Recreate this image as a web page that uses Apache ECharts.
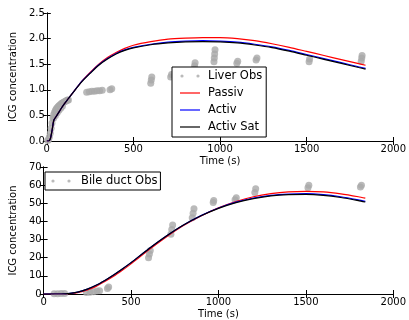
<!DOCTYPE html>
<html>
<head>
<meta charset="utf-8">
<script src="https://cdn.jsdelivr.net/npm/echarts@6/dist/echarts.min.js"></script>
<style>
html,body{margin:0;padding:0;background:#fff;}
#c{width:409px;height:320px;}
</style>
</head>
<body>
<div id="c"></div>
<script>
// ---- data ----
var xTicks = [0, 500, 1000, 1500, 2000];
var liverTicks = [0.0, 0.5, 1.0, 1.5, 2.0, 2.5];
var bileTicks = [0, 10, 20, 30, 40, 50, 60, 70];

var liverObsT = [5,10,15,20,25,30,35,40,45,50,55,60,65,70,75,80,85,90,95,100,105,110,115,120,125,
  40,50,60,70,80,90,
  230,245,260,275,290,305,320,365,375,
  600,603,606,715,720,850,853,856,965,967,969,971,1097,1102,1208,1213,1514,1517,1815,1818,1820];
var liverObsV = [0.01,0.03,0.08,0.15,0.25,0.35,0.45,0.52,0.56,0.6,0.63,0.65,0.67,0.69,0.7,0.72,0.73,0.74,0.75,0.76,0.77,0.78,0.79,0.8,0.8,
  0.45,0.5,0.55,0.6,0.64,0.68,
  0.95,0.96,0.97,0.97,0.98,0.98,0.99,1.0,1.02,
  1.13,1.19,1.25,1.25,1.3,1.4,1.47,1.53,1.55,1.62,1.7,1.78,1.52,1.56,1.58,1.62,1.55,1.6,1.56,1.62,1.67];

var bileObsT = [60,80,100,120,245,265,285,305,320,365,372,600,605,610,728,733,738,850,855,860,970,973,1095,1102,1208,1213,1512,1517,1812,1818];
var bileObsV = [0.2,0.2,0.3,0.3,0.8,1.0,1.3,1.6,1.8,3.0,3.8,20,22,24,33,35.5,38,42,44.5,47,50.5,51.5,52,53,56,58,58.5,60,59,60];

var modelT = [0,10,20,30,40,50,60,80,100,125,150,200,250,300,350,400,450,500,600,700,800,900,1000,1100,1200,1300,1400,1500,1600,1700,1800,1840];

var liverPassiv   = [0,0,0.04,0.2,0.4,0.46,0.51,0.62,0.72,0.83,0.94,1.16,1.34,1.50,1.63,1.73,1.81,1.87,1.94,1.99,2.01,2.02,2.02,2.0,1.96,1.9,1.83,1.75,1.67,1.59,1.51,1.48];
var liverActiv    = [0,0,0.04,0.2,0.4,0.46,0.51,0.62,0.72,0.83,0.94,1.16,1.33,1.49,1.61,1.71,1.78,1.83,1.89,1.93,1.95,1.96,1.95,1.93,1.89,1.84,1.77,1.69,1.61,1.53,1.45,1.42];
var liverActivSat = [0,0,0.04,0.2,0.4,0.46,0.51,0.62,0.72,0.83,0.94,1.15,1.32,1.48,1.60,1.70,1.77,1.82,1.88,1.915,1.935,1.94,1.935,1.915,1.875,1.825,1.755,1.675,1.595,1.515,1.435,1.405];

var bilePassiv   = [0,0,0,0,0,0,0,0,0,0.05,0.15,0.9,2.3,4.2,6.9,9.8,13.1,16.6,24.2,31.3,37.7,43,47.5,51,53.6,55.3,56.3,56.6,56.3,55.2,53.6,52.8];
var bileActiv    = [0,0,0,0,0,0,0,0,0,0.05,0.3,1.2,2.7,4.8,7.5,10.5,13.8,17.3,24.8,31.8,38,43.2,47.4,50.6,52.9,54.4,55.1,55.3,54.8,53.6,51.9,51.1];
var bileActivSat = [0,0,0,0,0,0,0,0,0,0.05,0.3,1.2,2.7,4.8,7.5,10.5,13.8,17.3,24.8,31.8,38,43.1,47.2,50.4,52.6,54.1,54.8,54.9,54.4,53.2,51.5,50.7];

function zip(a, b) { return a.map(function (t, i) { return [t, b[i]]; }); }

var FONT = 'DejaVu Sans';
var OBS_COLOR = '#a9a9a9';
var dotsIcon = 'path://M0,0M20,14M0.4,7a1.6,1.6 0 1,0 3.2,0a1.6,1.6 0 1,0 -3.2,0M16.4,7a1.6,1.6 0 1,0 3.2,0a1.6,1.6 0 1,0 -3.2,0';
var lineIcon = 'path://M0,0M20,14M0,6.4L20,6.4L20,7.6L0,7.6Z';

function xAx(grid, pos, labels) {
  return {
    type: 'value', gridIndex: grid, position: pos,
    min: xTicks[0], max: xTicks[xTicks.length - 1], interval: xTicks[1] - xTicks[0],
    name: labels ? 'Time (s)' : '', nameLocation: 'middle', nameGap: 15,
    nameTextStyle: { fontFamily: FONT, fontSize: 10, color: '#000' },
    axisLine: { show: true, lineStyle: { color: '#000', width: 1 } },
    axisTick: { show: true, inside: true, length: 4, lineStyle: { color: '#000' } },
    axisLabel: { show: labels, fontFamily: FONT, fontSize: 10, color: '#000', margin: 3,
      formatter: function (v) { return String(v); } },
    splitLine: { show: false }
  };
}
function yAx(grid, pos, ticks, labels, fmt) {
  return {
    type: 'value', gridIndex: grid, position: pos,
    min: ticks[0], max: ticks[ticks.length - 1], interval: ticks[1] - ticks[0],
    name: labels ? 'ICG concentration' : '', nameLocation: 'middle', nameGap: 17,
    nameTextStyle: { fontFamily: FONT, fontSize: 10, color: '#000' },
    axisLine: { show: true, lineStyle: { color: '#000', width: 1 } },
    axisTick: { show: true, inside: true, length: 4, lineStyle: { color: '#000' } },
    axisLabel: { show: labels, fontFamily: FONT, fontSize: 10, color: '#000', margin: 2, formatter: fmt },
    splitLine: { show: false }
  };
}
function lineSeries(name, xi, yi, t, v, color) {
  return {
    name: name, type: 'line', xAxisIndex: xi, yAxisIndex: yi,
    data: zip(t, v), showSymbol: false, smooth: 0.25,
    lineStyle: { color: color, width: 1.2 }, itemStyle: { color: color },
    silent: true, animation: false
  };
}

var chart = echarts.init(document.getElementById('c'), null, { renderer: 'canvas' });
chart.setOption({
  animation: false,
  backgroundColor: '#fff',
  grid: [
    { left: 39, right: 10, top: 13, height: 128 },
    { left: 39, right: 10, top: 167, height: 127 }
  ],
  xAxis: [xAx(0, 'bottom', true), xAx(0, 'top', false), xAx(1, 'bottom', true), xAx(1, 'top', false)],
  yAxis: [
    yAx(0, 'left', liverTicks, true, function (v) { return v.toFixed(1); }),
    yAx(0, 'right', liverTicks, false),
    yAx(1, 'left', bileTicks, true, function (v) { return String(v); }),
    yAx(1, 'right', bileTicks, false)
  ],
  legend: [
    {
      data: [
        { name: 'Liver Obs', icon: dotsIcon },
        { name: 'Passiv', icon: lineIcon, itemStyle: { color: '#ff0000' } },
        { name: 'Activ', icon: lineIcon, itemStyle: { color: '#0000ff' } },
        { name: 'Activ Sat', icon: lineIcon, itemStyle: { color: '#000000' } }
      ],
      orient: 'vertical', left: 172, top: 67,
      padding: [2, 4, 3, 8], itemGap: 3, itemWidth: 20, itemHeight: 14,
      borderColor: '#000', borderWidth: 1, borderRadius: 0, backgroundColor: '#fff',
      textStyle: { fontFamily: FONT, fontSize: 11.5, color: '#000', lineHeight: 14, padding: [0, 0, 0, 3] },
      selectedMode: false
    },
    {
      data: [{ name: 'Bile duct Obs', icon: dotsIcon }],
      orient: 'vertical', left: 45, top: 172,
      padding: [2, 3, 2, 6], itemGap: 3, itemWidth: 20, itemHeight: 14,
      borderColor: '#000', borderWidth: 1, borderRadius: 0, backgroundColor: '#fff',
      textStyle: { fontFamily: FONT, fontSize: 11.5, color: '#000', lineHeight: 14, padding: [0, 0, 0, 5] },
      selectedMode: false
    }
  ],
  series: [
    { name: 'Liver Obs', type: 'scatter', xAxisIndex: 0, yAxisIndex: 0, data: zip(liverObsT, liverObsV),
      symbol: 'circle', symbolSize: 7, itemStyle: { color: OBS_COLOR }, silent: true },
    lineSeries('Passiv', 0, 0, modelT, liverPassiv, '#ff0000'),
    lineSeries('Activ', 0, 0, modelT, liverActiv, '#0000ff'),
    lineSeries('Activ Sat', 0, 0, modelT, liverActivSat, '#000000'),
    { name: 'Bile duct Obs', type: 'scatter', xAxisIndex: 2, yAxisIndex: 2, data: zip(bileObsT, bileObsV),
      symbol: 'circle', symbolSize: 7, itemStyle: { color: OBS_COLOR }, silent: true },
    lineSeries('Passiv', 2, 2, modelT, bilePassiv, '#ff0000'),
    lineSeries('Activ', 2, 2, modelT, bileActiv, '#0000ff'),
    lineSeries('Activ Sat', 2, 2, modelT, bileActivSat, '#000000')
  ]
});
</script>
</body>
</html>
